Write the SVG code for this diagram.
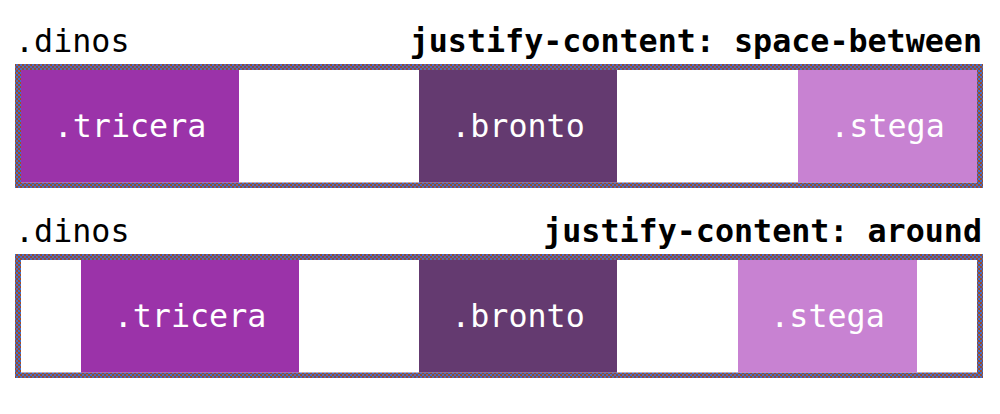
<svg xmlns="http://www.w3.org/2000/svg" width="1000" height="414" viewBox="0 0 1000 414">
  <defs>
    <pattern id="dither" x="0" y="0" width="4" height="4" patternUnits="userSpaceOnUse">
      <rect x="0" y="0" width="4" height="4" fill="#4072cc"/>
      <rect x="2" y="0" width="2" height="2" fill="#a04a28"/>
      <rect x="0" y="2" width="2" height="2" fill="#a04a28"/>
    </pattern>
  </defs>
  <style>
    .lbl { font-family: "DejaVu Sans Mono", "Liberation Mono", monospace; font-size: 31.7px; fill: #000; }
    .prop { font-family: "DejaVu Sans Mono", "Liberation Mono", monospace; font-size: 31.7px; font-weight: bold; fill: #000; text-anchor: end; }
    .frame { fill: url(#dither); }
    .inner { fill: #ffffff; }
    .name { font-family: "DejaVu Sans Mono", "Liberation Mono", monospace; font-size: 31.7px; fill: #ffffff; text-anchor: middle; }
    .tricera { fill: #9b33a9; }
    .bronto { fill: #643a70; }
    .stega { fill: #c882d2; }
  </style>
  <rect width="1000" height="414" fill="#ffffff"/>

  <g id="row1">
    <text class="lbl" x="15" y="52">.dinos</text>
    <text class="prop" x="982" y="52">justify-content: space-between</text>
    <g id="dinos1">
      <rect class="frame" x="15" y="64" width="968" height="124"/>
      <rect class="inner" x="21" y="70" width="956" height="112.5"/>
    </g>
    <g id="tricera1">
      <rect class="tricera" x="21" y="70" width="218" height="112.5"/>
      <text class="name" x="130" y="137">.tricera</text>
    </g>
    <g id="bronto1">
      <rect class="bronto" x="419" y="70" width="198" height="112.5"/>
      <text class="name" x="518" y="137">.bronto</text>
    </g>
    <g id="stega1">
      <rect class="stega" x="798" y="70" width="179" height="112.5"/>
      <text class="name" x="887.5" y="137">.stega</text>
    </g>
  </g>

  <g id="row2">
    <text class="lbl" x="15" y="242">.dinos</text>
    <text class="prop" x="982" y="242">justify-content: around</text>
    <g id="dinos2">
      <rect class="frame" x="15" y="254" width="968" height="124"/>
      <rect class="inner" x="21" y="260" width="956" height="112.5"/>
    </g>
    <g id="tricera2">
      <rect class="tricera" x="81" y="260" width="218" height="112.5"/>
      <text class="name" x="190" y="327">.tricera</text>
    </g>
    <g id="bronto2">
      <rect class="bronto" x="419" y="260" width="198" height="112.5"/>
      <text class="name" x="518" y="327">.bronto</text>
    </g>
    <g id="stega2">
      <rect class="stega" x="738" y="260" width="179" height="112.5"/>
      <text class="name" x="827.5" y="327">.stega</text>
    </g>
  </g>

  <g id="connectors"></g>
</svg>
